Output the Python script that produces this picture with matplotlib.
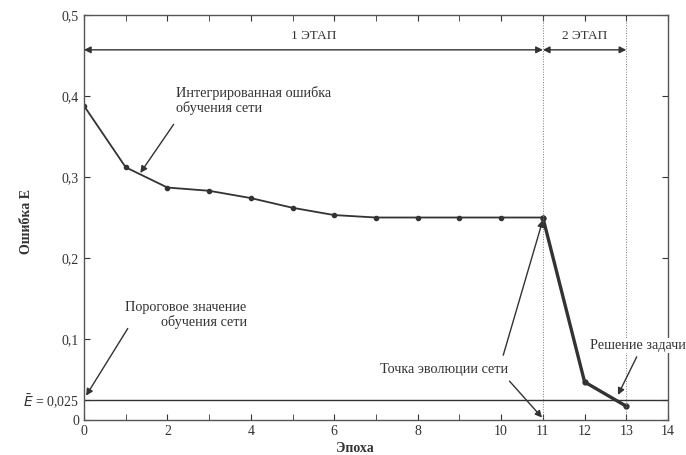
import matplotlib
matplotlib.use("Agg")
import matplotlib.pyplot as plt

plt.rcParams['font.family'] = ['Liberation Serif', 'DejaVu Serif']

# Ошибка обучения по эпохам
epochs = [0, 1, 2, 3, 4, 5, 6, 7, 8, 9, 10, 11, 12, 13]
error = [0.388, 0.312, 0.287, 0.283, 0.274, 0.262, 0.253, 0.250, 0.250, 0.250, 0.250, 0.250, 0.047, 0.017]
threshold = 0.025

xticks = [0, 2, 4, 6, 8, 10, 11, 12, 13, 14]
yticks = [0, threshold, 0.1, 0.2, 0.3, 0.4, 0.5]
yticklabels = ['0', r'$\bar{E}$ = 0,025', '0,1', '0,2', '0,3', '0,4', '0,5']

col = '#333333'
fs = 10.3
fig = plt.figure(figsize=(6.86, 4.55), dpi=100)
ax = fig.add_axes([0.1224, 0.0769, 0.8514, 0.8901])

ax.plot(epochs[:12], error[:12], color=col, lw=1.3, marker='o', ms=3)
ax.plot(epochs[11:], error[11:], color=col, lw=2.4, marker='o', ms=3.5)
ax.axhline(threshold, color=col, lw=1.0)
ax.axvline(11, color='#777777', lw=0.7, ls=':')
ax.axvline(13, color='#777777', lw=0.7, ls=':')

ax.set_xlim(0, 14)
ax.set_ylim(0, 0.5)
ax.set_xticks(xticks)
ax.set_xticks([1, 3, 5, 7, 9], minor=True)
ax.set_yticks(yticks)
ax.set_yticklabels(yticklabels)
ax.tick_params(direction='in', top=True, right=True, which='both', colors=col,
               labelsize=10, length=4)
ax.tick_params(which='minor', length=4)
for s in ax.spines.values():
    s.set_color('#555555')
    s.set_linewidth(1.0)

ax.set_xlabel('Эпоха', fontweight='bold', color=col, fontsize=10)
ax.set_ylabel('Ошибка E', fontweight='bold', color=col, fontsize=10)
ax.xaxis.set_label_coords(0.464, -0.055)
ax.yaxis.set_label_coords(-0.087, 0.49)

# этапы
arr = dict(arrowstyle='<|-|>', color=col, lw=1.0, mutation_scale=10, shrinkA=0, shrinkB=0)
ax.annotate('', xy=(0, 0.457), xytext=(11, 0.457), arrowprops=arr)
ax.annotate('', xy=(11, 0.457), xytext=(13, 0.457), arrowprops=arr)
ax.text(5.5, 0.474, '1 ЭТАП', ha='center', va='center', color=col, fontsize=9.5)
ax.text(12, 0.474, '2 ЭТАП', ha='center', va='center', color=col, fontsize=9.5)

# подписи
pt = dict(arrowstyle='-|>', color=col, lw=1.0, mutation_scale=10, shrinkA=0, shrinkB=0)
ax.text(2.2, 0.395, 'Интегрированная ошибка\nобучения сети', ha='left', va='center',
        color=col, fontsize=fs, linespacing=1.1)
ax.annotate('', xy=(1.35, 0.305), xytext=(2.15, 0.365), arrowprops=pt)

ax.text(3.9, 0.13, 'Пороговое значение\nобучения сети', ha='right', va='center',
        color=col, fontsize=fs, linespacing=1.1)
ax.annotate('', xy=(0.05, 0.03), xytext=(1.05, 0.113), arrowprops=pt)

ax.text(8.63, 0.062, 'Точка эволюции сети', ha='center', va='center', color=col, fontsize=fs)
ax.annotate('', xy=(11, 0.247), xytext=(10.05, 0.08), arrowprops=pt)
ax.annotate('', xy=(10.98, 0.003), xytext=(10.2, 0.048), arrowprops=pt)

ax.text(12.13, 0.092, 'Решение задачи', ha='left', va='center', color=col, fontsize=fs,
        clip_on=False, zorder=5, bbox=dict(facecolor='white', edgecolor='none', pad=0.5))
ax.annotate('', xy=(12.8, 0.031), xytext=(13.25, 0.078), arrowprops=pt)

fig.savefig('out.png', dpi=100)
